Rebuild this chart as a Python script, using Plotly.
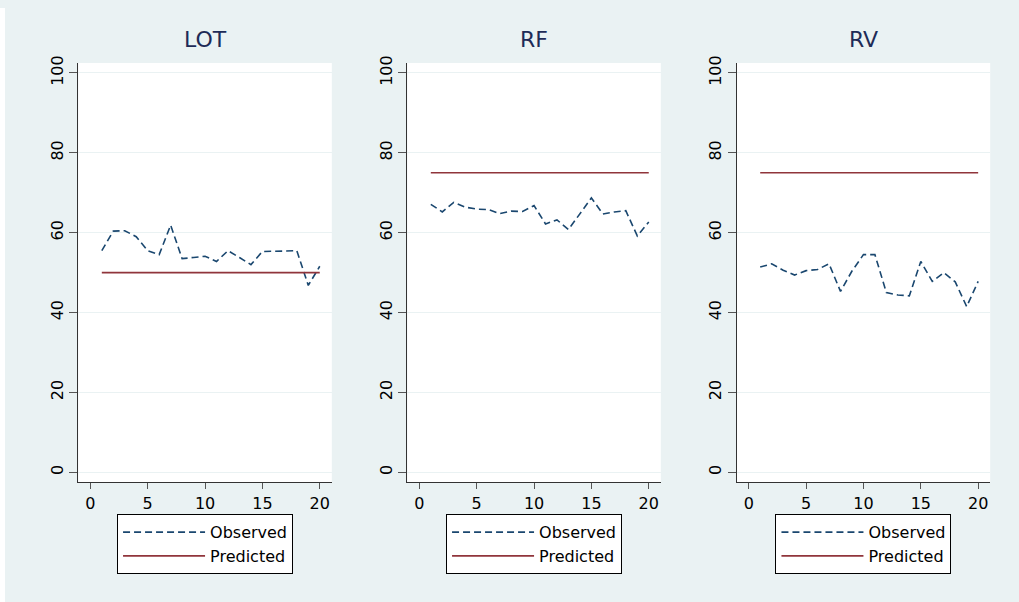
import plotly.graph_objects as go

# ---------------- data ----------------
x_vals = list(range(1, 21))
panel_names = ["LOT", "RF", "RV"]

lot_observed = [55.5, 60.4, 60.5, 59.0, 55.5, 54.5, 61.9, 53.5, 53.8, 54.1,
                52.8, 55.5, 53.8, 52.0, 55.3, 55.3, 55.4, 55.5, 46.8, 51.6]
rf_observed = [67.1, 65.2, 67.6, 66.4, 65.9, 65.8, 64.8, 65.4, 65.3, 66.8,
               62.2, 63.2, 60.8, 64.8, 68.7, 64.7, 65.2, 65.5, 59.2, 62.7]
rv_observed = [51.4, 52.2, 50.6, 49.4, 50.5, 50.8, 52.2, 45.3, 50.4, 54.5,
               54.5, 45.0, 44.4, 44.2, 52.8, 47.8, 50.0, 47.7, 41.5, 47.8]
lot_predicted = 50
rf_predicted = 75
rv_predicted = 75

x_tick_vals = [0, 5, 10, 15, 20]
y_tick_vals = [0, 20, 40, 60, 80, 100]
series_names = ["Observed", "Predicted"]

# ---------------- style / layout ----------------
W, H = 1019, 602
BG = "#EAF2F3"
OBS_COLOR = "#1A476F"
PRED_COLOR = "#90353B"
TITLE_COLOR = "#1E2B57"
FONT = "DejaVu Sans, Arial, sans-serif"

left_px = [78.3, 407.3, 736.7]
width_px = 253.5
top_px, bottom_px = 55.7, 480.7

observed_sets = [lot_observed, rf_observed, rv_observed]
predicted_sets = [lot_predicted, rf_predicted, rv_predicted]

fig = go.Figure()
layout_axes = {}
annotations = []
legends = {}

for i, name in enumerate(panel_names):
    sfx = "" if i == 0 else str(i + 1)
    xa, ya = "x" + sfx, "y" + sfx
    leg = "legend" + sfx
    fig.add_trace(go.Scatter(
        x=x_vals, y=observed_sets[i], mode="lines", name=series_names[0],
        line=dict(color=OBS_COLOR, width=1.6, dash="7px,4px"),
        xaxis=xa, yaxis=ya, legend=leg, showlegend=True))
    fig.add_trace(go.Scatter(
        x=x_vals, y=[predicted_sets[i]] * len(x_vals), mode="lines",
        name=series_names[1],
        line=dict(color=PRED_COLOR, width=1.6),
        xaxis=xa, yaxis=ya, legend=leg, showlegend=True))

    x0 = left_px[i] / W
    x1 = (left_px[i] + width_px) / W
    layout_axes["xaxis" + sfx] = dict(
        domain=[x0, x1], anchor=ya, range=[-1.05, 21.05],
        tickvals=x_tick_vals, ticks="outside", ticklen=6, tickwidth=1,
        tickcolor="#555555", showline=True, linecolor="#333333", linewidth=1,
        showgrid=False, zeroline=False,
        tickfont=dict(family=FONT, size=16, color="#000000"))
    layout_axes["yaxis" + sfx] = dict(
        domain=[1 - bottom_px / H, 1 - top_px / H], anchor=xa,
        range=[-2.5, 102.5], tickvals=y_tick_vals, tickangle=-90,
        ticks="outside", ticklen=8, tickwidth=1, tickcolor="#555555",
        showline=True, linecolor="#333333", linewidth=1,
        showgrid=True, gridcolor=BG, gridwidth=1, zeroline=False,
        tickfont=dict(family=FONT, size=16, color="#000000"))
    annotations.append(dict(
        text=name, xref="paper", yref="paper", x=(x0 + x1) / 2,
        y=1 - 32 / H, xanchor="center", yanchor="middle", showarrow=False,
        font=dict(family=FONT, size=22, color=TITLE_COLOR)))
    legends[leg] = dict(
        x=(x0 + x1) / 2, y=1 - 513 / H, xanchor="center", yanchor="top",
        bgcolor="#FFFFFF", bordercolor="#000000", borderwidth=1,
        font=dict(family=FONT, size=16, color="#000000"),
        itemwidth=82, tracegroupgap=0, orientation="v")

fig.update_layout(
    width=W, height=H, margin=dict(l=0, r=0, t=0, b=0),
    paper_bgcolor=BG, plot_bgcolor="#FFFFFF",
    annotations=annotations,
    shapes=[dict(type="rect", xref="paper", yref="paper", x0=0, x1=5 / W,
                 y0=0, y1=1, fillcolor="#FFFFFF", line=dict(width=0),
                 layer="below")],
    **layout_axes, **legends)

fig.write_html(
    "out.html",
    config={"displayModeBar": False},
    post_script=("document.body.style.margin='0';"
                 "document.body.style.padding='0';"
                 "document.body.style.overflow='hidden';"),
)
